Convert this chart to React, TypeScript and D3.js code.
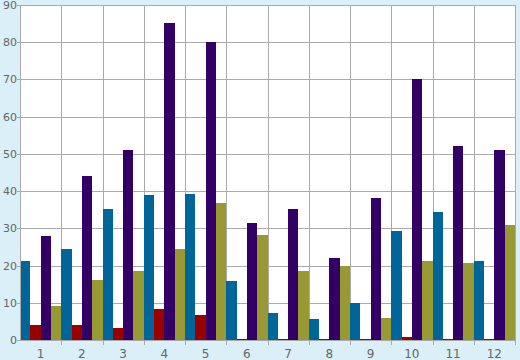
import React, { useEffect, useRef } from 'react';
import * as d3 from 'd3';

const categories = ['1', '2', '3', '4', '5', '6', '7', '8', '9', '10', '11', '12'];
const seriesNames = ['blue', 'red', 'purple', 'olive'];
const colors = ['#006699', '#990000', '#330066', '#999933'];

const blueValues = [21.2, 24.4, 35.2, 39, 39.2, 15.9, 7.3, 5.6, 9.9, 29.3, 34.4, 21.2];
const redValues = [4, 4, 3.2, 8.3, 6.7, 0.2, 0.2, 0.2, 0.2, 0.8, 0.4, 0.4];
const purpleValues = [28, 44, 51, 85.2, 80, 31.4, 35.2, 22, 38.1, 70.1, 52.1, 51];
const oliveValues = [9.1, 16.1, 18.5, 24.4, 36.8, 28.2, 18.5, 19.9, 5.9, 21.2, 20.7, 30.9];

const yTicks = [0, 10, 20, 30, 40, 50, 60, 70, 80, 90];

function App() {
  const svgRef = useRef<SVGSVGElement>(null);

  useEffect(() => {
    const width = 520;
    const height = 360;
    const margin = { top: 5, right: 5, bottom: 20, left: 20 };

    const svg = d3.select(svgRef.current);
    svg.selectAll('*').remove();
    svg.attr('width', width).attr('height', height);

    // background
    svg.append('rect')
      .attr('width', width)
      .attr('height', height)
      .attr('fill', '#daeff7');

    const x0 = d3.scaleBand()
      .domain(categories)
      .range([margin.left, width - margin.right])
      .padding(0);

    const x1 = d3.scaleBand()
      .domain(seriesNames)
      .range([0, x0.bandwidth()])
      .padding(0);

    const y = d3.scaleLinear()
      .domain([0, 90])
      .range([height - margin.bottom, margin.top]);

    // plot area
    svg.append('rect')
      .attr('x', margin.left)
      .attr('y', margin.top)
      .attr('width', width - margin.left - margin.right)
      .attr('height', height - margin.top - margin.bottom)
      .attr('fill', '#fff');

    const grid = svg.append('g').attr('stroke', '#aaaaaa').attr('stroke-width', 1);

    // horizontal grid
    grid.selectAll('line.h')
      .data(yTicks)
      .enter()
      .append('line')
      .attr('x1', margin.left)
      .attr('x2', width - margin.right)
      .attr('y1', d => Math.round(y(d)) + 0.5)
      .attr('y2', d => Math.round(y(d)) + 0.5);

    // vertical grid at group boundaries
    const bounds = categories.map(c => (x0(c) as number) + x0.bandwidth());
    grid.selectAll('line.v')
      .data(bounds)
      .enter()
      .append('line')
      .attr('x1', d => Math.round(d) + 0.5)
      .attr('x2', d => Math.round(d) + 0.5)
      .attr('y1', margin.top)
      .attr('y2', height - margin.bottom + 5);

    // bars
    const allSeries = [blueValues, redValues, purpleValues, oliveValues];
    const rows = categories.map((c, i) => ({
      cat: c,
      vals: seriesNames.map((s, j) => ({ s, v: allSeries[j][i], color: colors[j] }))
    }));

    svg.append('g')
      .selectAll('g')
      .data(rows)
      .enter()
      .append('g')
      .attr('transform', d => `translate(${x0(d.cat)},0)`)
      .selectAll('rect')
      .data(d => d.vals)
      .enter()
      .append('rect')
      .attr('x', d => x1(d.s) as number)
      .attr('width', x1.bandwidth())
      .attr('y', d => y(d.v))
      .attr('height', d => y(0) - y(d.v))
      .attr('fill', d => d.color)
      .attr('shape-rendering', 'crispEdges');

    // left axis line
    svg.append('line')
      .attr('x1', margin.left + 0.5)
      .attr('x2', margin.left + 0.5)
      .attr('y1', margin.top)
      .attr('y2', height - margin.bottom)
      .attr('stroke', '#aaaaaa');

    // y tick marks and labels
    const yAxis = svg.append('g');
    yAxis.selectAll('line')
      .data(yTicks)
      .enter()
      .append('line')
      .attr('x1', margin.left - 3)
      .attr('x2', margin.left)
      .attr('y1', d => Math.round(y(d)) + 0.5)
      .attr('y2', d => Math.round(y(d)) + 0.5)
      .attr('stroke', '#aaaaaa');
    yAxis.selectAll('text')
      .data(yTicks)
      .enter()
      .append('text')
      .attr('x', margin.left - 3)
      .attr('y', d => y(d) + 4)
      .attr('text-anchor', 'end')
      .attr('font-family', 'DejaVu Sans, Verdana, sans-serif')
      .attr('font-size', '11px')
      .attr('fill', '#666')
      .text(d => d);

    // x labels
    svg.append('g')
      .selectAll('text')
      .data(categories)
      .enter()
      .append('text')
      .attr('x', d => (x0(d) as number) + x0.bandwidth() / 2)
      .attr('y', height - 2)
      .attr('text-anchor', 'middle')
      .attr('font-family', 'DejaVu Sans, Verdana, sans-serif')
      .attr('font-size', '12px')
      .attr('fill', '#666')
      .text(d => d);
  }, []);

  return (
    <svg ref={svgRef} style={{ position: 'absolute', left: 0, top: 0, display: 'block' }}></svg>
  );
}

export default App;
